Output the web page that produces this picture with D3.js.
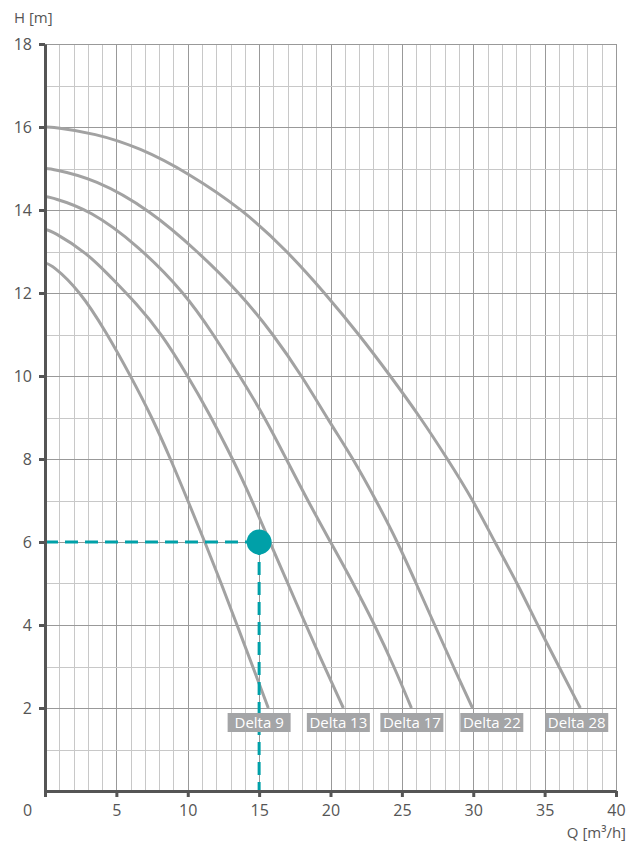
<head>
    <meta charset="utf-8">
    <script src="https://d3js.org/d3.v7.min.js"></script>
    <style>
        body { margin: 0; background: #fff; }
        svg { display: block; font-family: "Open Sans", sans-serif; }
    </style>
</head>
<body>
<svg width="630" height="842"></svg>
<script>

    // ---- data ----
    var qTicks = [0, 5, 10, 15, 20, 25, 30, 35, 40];
    var hTicks = [2, 4, 6, 8, 10, 12, 14, 16, 18];

    var curveNames = ["Delta 9", "Delta 13", "Delta 17", "Delta 22", "Delta 28"];
    var labelQ = [15.0, 20.55, 25.7, 31.3, 37.25];

    var delta9 = [[0, 12.72], [0.5, 12.68], [2.45, 12.05], [4.3, 11.05], [6, 10], [7.5, 9], [8.8, 8],
        [10.0, 7], [11.2, 6], [12.35, 5], [13.45, 4], [14.55, 3], [15.64, 2]];
    var delta13 = [[0, 13.53], [0.5, 13.5], [3, 12.95], [4.55, 12.4], [6.4, 11.75], [8.2, 11],
        [10, 10], [11.5, 9.1], [12.7, 8.3], [14, 7.4], [15.75, 6], [17.7, 4.45], [19.3, 3.2], [20.9, 2]];
    var delta17 = [[0, 14.32], [0.5, 14.3], [3.15, 14], [6.5, 13.15], [9.8, 12], [11.8, 11], [13.65, 10],
        [15.4, 9], [16.9, 8], [18.4, 7], [20.0, 6], [21.6, 5], [23.1, 4], [24.45, 3], [25.67, 2]];
    var delta22 = [[0, 15], [0.5, 14.99], [3.5, 14.75], [7.35, 14], [10.7, 13], [13.65, 12], [16, 11], [18, 10],
        [20, 8.85], [21.6, 8], [23.2, 7], [24.7, 6], [26.0, 5], [27.3, 4], [28.6, 3], [29.95, 2]];
    var delta28 = [[0, 16], [0.5, 16], [3.5, 15.85], [6.65, 15.5], [10, 14.9], [13.9, 14], [17, 13], [19.6, 12],
        [22, 11], [24.2, 10], [26.3, 9], [28.2, 8], [30, 7], [31.5, 6], [33.1, 5], [34.5, 4],
        [36, 3], [37.5, 2]];

    var dutyQ = 15, dutyH = 6;

    // ---- chart ----
    var svg = d3.select("svg"),
        margin = {top: 44, right: 14, bottom: 51, left: 45},
        width = +svg.attr("width") - margin.left - margin.right,
        height = +svg.attr("height") - margin.top - margin.bottom;

    var x = d3.scaleLinear().domain([0, 40]).range([margin.left, margin.left + width]);
    var y = d3.scaleLinear().domain([0, 18]).range([margin.top + height, margin.top]);

    var teal = "#00a0a8";

    //
    // grid
    //
    var grid = svg.append("g");

    grid.selectAll(".vgrid")
        .data(d3.range(1, 41))
        .enter().append("line")
        .attr("x1", d => Math.round(x(d)) + 0.5)
        .attr("x2", d => Math.round(x(d)) + 0.5)
        .attr("y1", y(0))
        .attr("y2", y(18))
        .attr("stroke", d => d % 5 === 0 ? "#999" : "#c8c8c8")
        .attr("stroke-width", 1);

    grid.selectAll(".hgrid")
        .data(d3.range(1, 19))
        .enter().append("line")
        .attr("x1", x(0))
        .attr("x2", x(40))
        .attr("y1", d => Math.round(y(d)) + 0.5)
        .attr("y2", d => Math.round(y(d)) + 0.5)
        .attr("stroke", d => d % 2 === 0 ? "#999" : "#c8c8c8")
        .attr("stroke-width", 1);

    //
    // pump curves
    //
    var line = d3.line()
        .x(d => x(d[0]))
        .y(d => y(d[1]))
        .curve(d3.curveBasis);

    var curves = [delta9, delta13, delta17, delta22, delta28];

    svg.append("g").selectAll("path")
        .data(curves)
        .enter().append("path")
        .attr("d", line)
        .attr("fill", "none")
        .attr("stroke", "#a2a2a2")
        .attr("stroke-width", 3);

    //
    // duty point
    //
    svg.append("line")
        .attr("x1", x(0)).attr("x2", x(dutyQ))
        .attr("y1", y(dutyH)).attr("y2", y(dutyH))
        .attr("stroke", teal).attr("stroke-width", 3)
        .attr("stroke-dasharray", "13,7");

    svg.append("line")
        .attr("x1", x(dutyQ)).attr("x2", x(dutyQ))
        .attr("y1", y(dutyH)).attr("y2", y(0))
        .attr("stroke", teal).attr("stroke-width", 3)
        .attr("stroke-dasharray", "13,7");

    svg.append("circle")
        .attr("cx", x(dutyQ))
        .attr("cy", y(dutyH))
        .attr("r", 12.5)
        .attr("fill", teal);

    //
    // curve labels
    //
    var labels = svg.append("g").selectAll("g")
        .data(curveNames)
        .enter().append("g")
        .attr("transform", (d, i) => "translate(" + x(labelQ[i]) + "," + (y(2) + 5) + ")");

    labels.append("rect")
        .attr("x", -31.5)
        .attr("y", 0)
        .attr("width", 63)
        .attr("height", 19)
        .attr("fill", "#a4a5a7");

    labels.append("text")
        .attr("x", 0)
        .attr("y", 15)
        .attr("text-anchor", "middle")
        .attr("fill", "#fff")
        .style("font-size", "15px")
        .text(d => d);

    //
    // axes
    //
    var xAxis = svg.append("g")
        .attr("transform", "translate(0," + y(0) + ")")
        .call(d3.axisBottom(x).tickValues(qTicks).tickSize(6).tickSizeOuter(0).tickPadding(8));

    var yAxis = svg.append("g")
        .attr("transform", "translate(" + x(0) + ",0)")
        .call(d3.axisLeft(y).tickValues(hTicks).tickSize(6).tickSizeOuter(0).tickPadding(7));

    [xAxis, yAxis].forEach(function(ax) {
        ax.select(".domain").attr("stroke", "#555").attr("stroke-width", 3);
        ax.selectAll(".tick line").attr("stroke", "#555").attr("stroke-width", 3);
        ax.selectAll(".tick text")
            .attr("fill", "#555")
            .style("font-size", "16px")
            .style("font-family", "'Open Sans', sans-serif");
    });

    xAxis.selectAll(".tick text").filter(d => d === 0).attr("x", -18);

    svg.append("text")
        .attr("x", 14)
        .attr("y", 23)
        .attr("fill", "#555")
        .style("font-size", "15px")
        .text("H [m]");

    svg.append("text")
        .attr("x", 626)
        .attr("y", 838)
        .attr("text-anchor", "end")
        .attr("fill", "#555")
        .style("font-size", "15px")
        .text("Q [m³/h]");

</script>
</body>
